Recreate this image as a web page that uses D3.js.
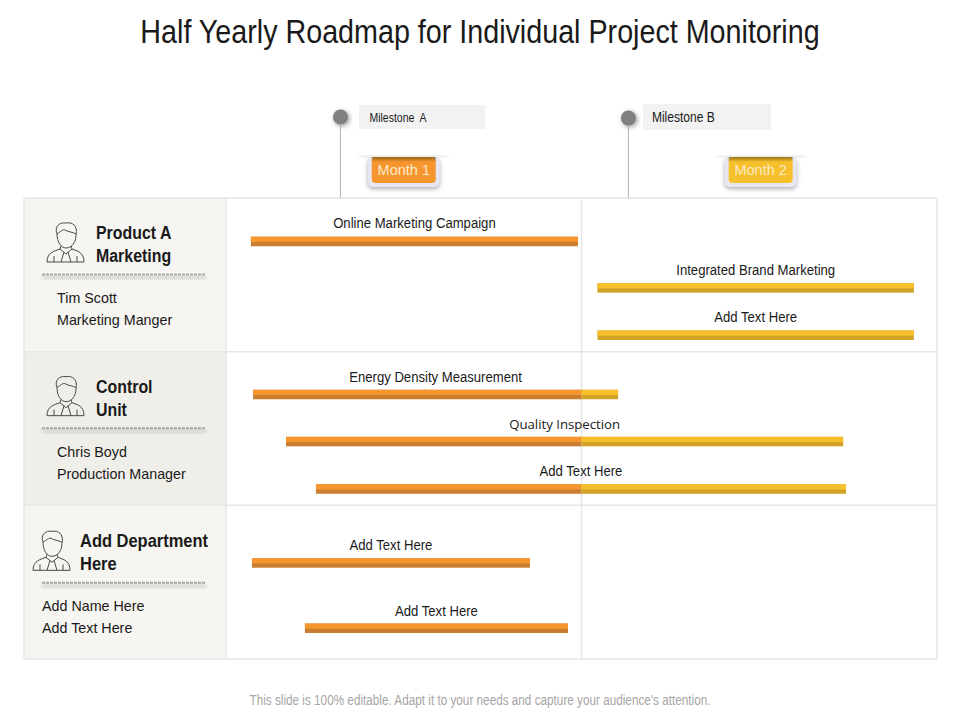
<!DOCTYPE html>
<html>
<head>
<meta charset="utf-8">
<style>
  body { margin: 0; background: #fff; }
  svg { display: block; }
  text { font-family: "Liberation Sans", Arial, sans-serif; fill: #1a1a1a; }
</style>
</head>
<body>
<div id="chart"></div>
<script src="https://cdn.jsdelivr.net/npm/d3@7"></script>
<script>
// task values: start and end in months, lane = row + position inside the row
const taskNames = ['Online Marketing Campaign', 'Integrated Brand Marketing', 'Add Text Here',
  'Energy Density Measurement', 'Quality Inspection', 'Add Text Here', 'Add Text Here', 'Add Text Here'];
const taskStarts = [0.07, 1.045, 1.045, 0.076, 0.169, 0.253, 0.073, 0.222];
const taskEnds = [0.99, 1.935, 1.935, 1.103, 1.736, 1.744, 0.855, 0.962];
const taskLanes = [0.283, 0.585, 0.893, 1.279, 1.585, 1.894, 2.375, 2.80];
const labelGaps = [13, 13, 13, 13, 13, 13, 13, 12];

const departments = [['Product A', 'Marketing'], ['Control', 'Unit'], ['Add Department', 'Here']];
const people = [['Tim Scott', 'Marketing Manger'], ['Chris Boyd', 'Production Manager'], ['Add Name Here', 'Add Text Here']];
const months = ['Month 1', 'Month 2'];
const milestones = ['Milestone  A', 'Milestone B'];
const milestoneMonths = [0.322, 1.132];

const title = 'Half Yearly Roadmap for Individual Project Monitoring';
const footer = "This slide is 100% editable. Adapt it to your needs and capture your audience's attention.";

const orange = '#f7962e';
const orangeDark = '#c97f2f';
const yellow = '#f6c02c';
const yellowDark = '#d2a327';

const svg = d3.select('#chart').append('svg').attr('width', 960).attr('height', 720);

// scales: months across, rows down
const x = d3.scaleLinear().domain([0, 2]).range([226, 937]);
const y = d3.scaleLinear().domain([0, 3]).range([198, 659]);

// the reference uses a narrow face, so squeeze the text sideways
function squeeze(px, py, k) {
  return `translate(${px},${py}) scale(${k},1)`;
}

const defs = svg.append('defs');
const blur = defs.append('filter').attr('id', 'soft')
  .attr('x', '-30%').attr('y', '-30%').attr('width', '160%').attr('height', '160%');
blur.append('feGaussianBlur').attr('stdDeviation', 2);
const tagShade = defs.append('linearGradient').attr('id', 'tagShade')
  .attr('x1', 0).attr('y1', 0).attr('x2', 0).attr('y2', 1);
tagShade.append('stop').attr('offset', 0).attr('stop-color', '#5c4308').attr('stop-opacity', 0.6);
tagShade.append('stop').attr('offset', 1).attr('stop-color', '#5c4308').attr('stop-opacity', 0);

svg.append('text').attr('transform', squeeze(480, 43, 0.87)).attr('text-anchor', 'middle')
  .style('font-size', '33px').text(title);

// left column panels
const rowBg = ['#f6f5f1', '#f0eee8', '#f6f5f1'];
svg.selectAll('.panel').data(departments).join('rect')
  .attr('class', 'panel')
  .attr('x', 24).attr('y', (d, i) => y(i))
  .attr('width', x(0) - 24).attr('height', (d, i) => y(i + 1) - y(i))
  .attr('fill', (d, i) => rowBg[i]);

// grid lines
const gridColor = '#e6e6e6';
svg.selectAll('.hline').data(d3.range(4)).join('line')
  .attr('class', 'hline')
  .attr('x1', 24).attr('x2', x(2))
  .attr('y1', d => y(d)).attr('y2', d => y(d))
  .attr('stroke', gridColor).attr('stroke-width', 1.5);
svg.selectAll('.vline').data([24, x(0), x(1), x(2)]).join('line')
  .attr('class', 'vline')
  .attr('x1', d => d).attr('x2', d => d)
  .attr('y1', y(0)).attr('y2', y(3))
  .attr('stroke', gridColor).attr('stroke-width', 1.5);

// person outline, drawn around 0,0 at the top left of the icon
function person(g) {
  g.append('path')
    .attr('fill', 'none').attr('stroke', '#4a4a4a').attr('stroke-width', 1)
    .attr('d', 'M10 11 C7 3 13 -1 19 0 C25 -1 31 2 29 12 C29 19 25 25 19 25 C14 25 10 19 10 11 Z' +
      ' M10 11 C13 9 16 6 18 7 C21 9 26 9 29 11' +
      ' M14 23 L13 26 C8 28 0 29 0 39 L37 39 C37 29 30 28 25 26 L24 23' +
      ' M13 26 L19 31 L25 26 M17 29 L14 39 M21 29 L24 39 M7 33 L7 39 M30 33 L30 39');
}

const iconX = [47, 47, 33];
const headX = [96, 96, 80];
const subX = [57, 57, 42];
const headSqueeze = [0.86, 0.86, 0.89];
const rowNudge = [0, 0, 1];

departments.forEach((lines, i) => {
  const top = y(i) + rowNudge[i];
  const g = svg.append('g');
  person(g.append('g').attr('transform', `translate(${iconX[i]},${top + 25})`));
  lines.forEach((t, j) => {
    g.append('text').attr('transform', squeeze(headX[i], top + 41 + j * 23, headSqueeze[i]))
      .style('font-weight', 'bold').style('font-size', '18.5px').text(t);
  });
  // divider with shadow
  g.append('rect').attr('x', 42).attr('y', top + 78).attr('width', 164).attr('height', 3)
    .attr('fill', '#c8c8c8').attr('filter', 'url(#soft)');
  g.append('line').attr('x1', 42).attr('x2', 206).attr('y1', top + 76.5).attr('y2', top + 76.5)
    .attr('stroke', '#a8a8a8').attr('stroke-width', 2).attr('stroke-dasharray', '3 1');
  people[i].forEach((t, j) => {
    g.append('text').attr('x', subX[i]).attr('y', top + 105 + j * 22)
      .style('font-size', '14.3px').text(t);
  });
});

// milestone pins
const pinTop = [117, 118];
const boxLeft = [18.5, 14.5];
const boxWidth = [126, 128];
const labelLeft = [29, 23.5];
const labelSqueeze = [0.84, 0.86];
const pin = svg.selectAll('.pin').data(milestones).join('g').attr('class', 'pin');
pin.append('line')
  .attr('x1', (d, i) => x(milestoneMonths[i])).attr('x2', (d, i) => x(milestoneMonths[i]))
  .attr('y1', (d, i) => pinTop[i]).attr('y2', y(0))
  .attr('stroke', '#b5b5b5');
pin.append('circle')
  .attr('cx', (d, i) => x(milestoneMonths[i]) + 1.5).attr('cy', (d, i) => pinTop[i] + 1.5).attr('r', 8)
  .attr('fill', '#aaa').attr('filter', 'url(#soft)');
pin.append('circle')
  .attr('cx', (d, i) => x(milestoneMonths[i])).attr('cy', (d, i) => pinTop[i]).attr('r', 7.5)
  .attr('fill', '#7f7f7f');
pin.append('rect')
  .attr('x', (d, i) => x(milestoneMonths[i]) + boxLeft[i]).attr('y', (d, i) => pinTop[i] - (i === 0 ? 12 : 14))
  .attr('width', (d, i) => boxWidth[i]).attr('height', (d, i) => i === 0 ? 24 : 26)
  .attr('fill', '#f2f2f2');
pin.append('text')
  .attr('transform', (d, i) => squeeze(x(milestoneMonths[i]) + labelLeft[i], pinTop[i] + (i === 0 ? 5 : 4), labelSqueeze[i]))
  .style('font-size', (d, i) => i === 0 ? '12.5px' : '14px')
  .style('white-space', 'pre').text(d => d);

// month tags hanging from a thin shadow line
const tagCenters = [0.5, 1.504];
const tagColors = [orange, yellow];
const tag = svg.selectAll('.tag').data(months).join('g').attr('class', 'tag')
  .attr('transform', (d, i) => `translate(${x(tagCenters[i])},0)`);
tag.append('rect').attr('x', -36).attr('y', 159).attr('width', 72).attr('height', 30).attr('rx', 5)
  .attr('fill', '#9a9ba8').attr('filter', 'url(#soft)').attr('opacity', 0.8);
tag.append('rect').attr('x', -36).attr('y', 157).attr('width', 72).attr('height', 30).attr('rx', 5)
  .attr('fill', '#e6e7f0');
tag.append('rect').attr('x', -45).attr('y', 156).attr('width', 90).attr('height', 1.5)
  .attr('fill', '#cfcfcf').attr('filter', 'url(#soft)');
tag.append('rect').attr('x', -32).attr('y', 157).attr('width', 64).attr('height', 26).attr('rx', 4)
  .attr('fill', (d, i) => tagColors[i]);
tag.append('rect').attr('x', -32).attr('y', 157).attr('width', 64).attr('height', 5)
  .attr('fill', 'url(#tagShade)');
tag.append('text').attr('x', 0).attr('y', 175).attr('text-anchor', 'middle')
  .style('font-size', '14.5px').style('fill', '#fde9c8').text(d => d);

// roadmap bars, split at the month boundary so each month keeps its colour
const barH = 9.5;
const topShare = 0.55;
const tasks = taskNames.map((name, i) => ({ name, start: taskStarts[i], end: taskEnds[i], lane: taskLanes[i], gap: labelGaps[i] }));
const parts = [];
tasks.forEach(t => {
  if (t.start < 1) parts.push({ start: t.start, end: Math.min(t.end, 1), lane: t.lane, top: orange, low: orangeDark });
  if (t.end > 1) parts.push({ start: Math.max(t.start, 1), end: t.end, lane: t.lane, top: yellow, low: yellowDark });
});
svg.selectAll('.bar-low').data(parts).join('rect')
  .attr('class', 'bar-low')
  .attr('x', d => x(d.start)).attr('width', d => x(d.end) - x(d.start))
  .attr('y', d => y(d.lane) - barH / 2).attr('height', barH)
  .attr('fill', d => d.low);
svg.selectAll('.bar-top').data(parts).join('rect')
  .attr('class', 'bar-top')
  .attr('x', d => x(d.start)).attr('width', d => x(d.end) - x(d.start))
  .attr('y', d => y(d.lane) - barH / 2).attr('height', barH * topShare)
  .attr('fill', d => d.top);
svg.selectAll('.bar-label').data(tasks).join('text')
  .attr('class', 'bar-label')
  .attr('transform', d => squeeze(x((d.start + d.end) / 2), y(d.lane) - d.gap, d.name === 'Quality Inspection' ? 1 : 0.875))
  .attr('text-anchor', 'middle')
  .style('font-family', d => d.name === 'Quality Inspection' ? '"Open Sans", sans-serif' : null)
  .style('font-size', d => d.name === 'Quality Inspection' ? '13.2px' : '15px')
  .text(d => d.name);

svg.append('text').attr('transform', squeeze(480, 705, 0.81)).attr('text-anchor', 'middle')
  .style('font-size', '14.5px').style('fill', '#a6a6a6').text(footer);
</script>
</body>
</html>
